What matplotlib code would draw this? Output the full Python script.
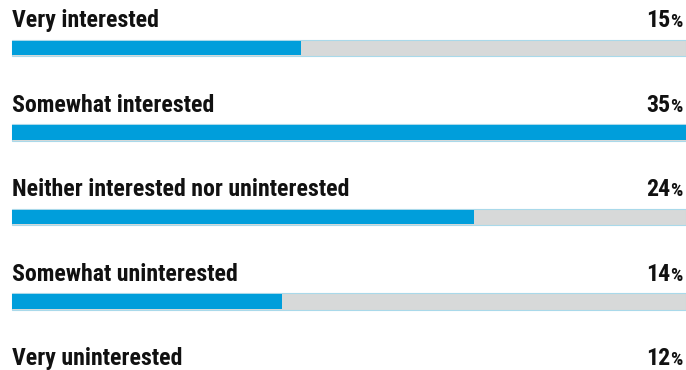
import matplotlib
matplotlib.use("Agg")
from matplotlib import pyplot as plt
from matplotlib import transforms

categories = ["Very interested", "Somewhat interested",
              "Neither interested nor uninterested",
              "Somewhat uninterested", "Very uninterested"]
values = [15, 35, 24, 14, 12]

blue = "#009edb"
track = "#d7d9d9"
edge = "#a9d9ea"

fig = plt.figure(figsize=(6.86, 3.70), dpi=100)
ax = fig.add_axes([0, 0, 1, 1])
ax.set_axis_off()

top = max(values)
spacing = 84.5  # pixels per row
ax.set_xlim(-12 / 674, 1.0)
ax.set_ylim((370 - 48) / spacing, -48 / spacing)

font = dict(family=["Roboto Condensed", "Open Sans Condensed", "Lato"],
            fontweight="bold", fontstretch="condensed")

fig.canvas.draw()
renderer = fig.canvas.get_renderer()

for i, (cat, v) in enumerate(zip(categories, values)):
    ax.barh(i, 1.0, height=0.19, color=track, edgecolor=edge, linewidth=0.8)
    ax.barh(i, v / top, height=0.175, color=blue, linewidth=0)
    ax.text(0, i - 0.245, cat, fontsize=17.2, va="baseline", ha="left",
            color="#111111", **font)
    pct = ax.text(0.9955, i - 0.245, "%", fontsize=14, va="baseline",
                  ha="right", color="#111111", **font)
    w = pct.get_window_extent(renderer).width
    off = transforms.offset_copy(ax.transData, fig=fig, x=-w, y=0, units="dots")
    ax.text(0.9955, i - 0.245, str(v), fontsize=17.2, va="baseline", ha="right",
            color="#111111", transform=off, **font)

fig.savefig("out.png", dpi=100)
